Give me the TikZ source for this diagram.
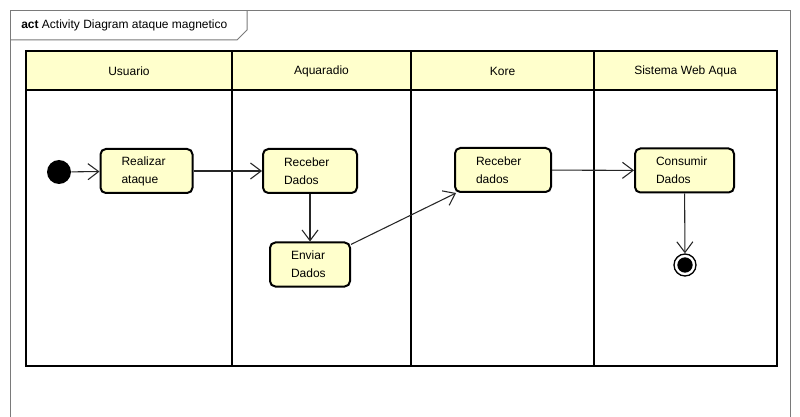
\documentclass[tikz,border=0pt]{standalone}
\usepackage{fontspec}
\setmainfont{Liberation Sans}
\usetikzlibrary{arrows.meta}
\definecolor{lanefill}{HTML}{FFFFCC}
\definecolor{framegray}{HTML}{7A7A7A}
\begin{document}
\begin{tikzpicture}[x=0.75pt,y=-0.75pt,
  font=\fontsize{9}{13.5}\selectfont,
  lane/.style={draw=black, line width=1.5pt},
  actbox/.style={draw=black, line width=1.5pt, fill=lanefill, rounded corners=4pt,
    align=left, inner xsep=15.75pt, minimum height=33pt, inner ysep=0pt},
  flow/.style={draw=black!85, line width=0.8pt, -{Straight Barb[length=8pt,width=12pt,line width=0.8pt]}},
  hdr/.style={anchor=center, inner sep=0pt}]
\useasboundingbox (0,0) rectangle (800,417);
\fill[white] (0,0) rectangle (800,417);
% frame
\draw[framegray, line width=0.75pt] (10,417) -- (10,11) -- (790,11) -- (790,417);
\draw[framegray, line width=0.75pt] (10,40) -- (237,40) -- (247,30) -- (247,11);
\node[anchor=west, inner sep=0pt, font=\fontsize{9}{11}\selectfont] (title) at (21,25) {\textbf{act} Activity Diagram ataque magnetico};
% swimlanes
\fill[lanefill] (26,51) rectangle (777,90);
\draw[lane] (26,51) rectangle (777,366);
\draw[lane] (26,90) -- (777,90);
\draw[lane] (232,51) -- (232,366);
\draw[lane] (411,51) -- (411,366);
\draw[lane] (594,51) -- (594,366);
\node[hdr] (h1) at (129,71) {Usuario};
\node[hdr] (h2) at (321.5,71) {Aquaradio};
\node[hdr] (h3) at (502.5,71) {Kore};
\node[hdr] (h4) at (685.5,71) {Sistema Web Aqua};
% nodes
\node[circle, fill=black, minimum size=18pt, inner sep=0pt] (init) at (59,172) {};
\node[actbox, text width=37.5pt] (real) at (146.5,171) {Realizar\\ataque};
\node[actbox, text width=39pt] (rec) at (310,171) {Receber\\Dados};
\node[actbox, text width=28.5pt] (env) at (310,264.5) {Enviar\\Dados};
\node[actbox, text width=40.5pt] (kore) at (503,170) {Receber\\dados};
\node[actbox, text width=42.75pt] (cons) at (684.5,170.5) {Consumir\\Dados};
\node[circle, draw=black, line width=1pt, fill=white, minimum size=16.5pt, inner sep=0pt] (fin) at (685,265) {};
\node[circle, fill=black, minimum size=11.5pt, inner sep=0pt] (fincore) at (fin.center) {};
% flows
\draw[flow] (init) -- (real);
\draw[flow] (real) -- (rec);
\draw[flow] (rec) -- (env);
\draw[flow] (env) -- (kore);
\draw[flow] (kore) -- (cons);
\draw[flow] (cons) -- (fin);
\end{tikzpicture}
\end{document}
